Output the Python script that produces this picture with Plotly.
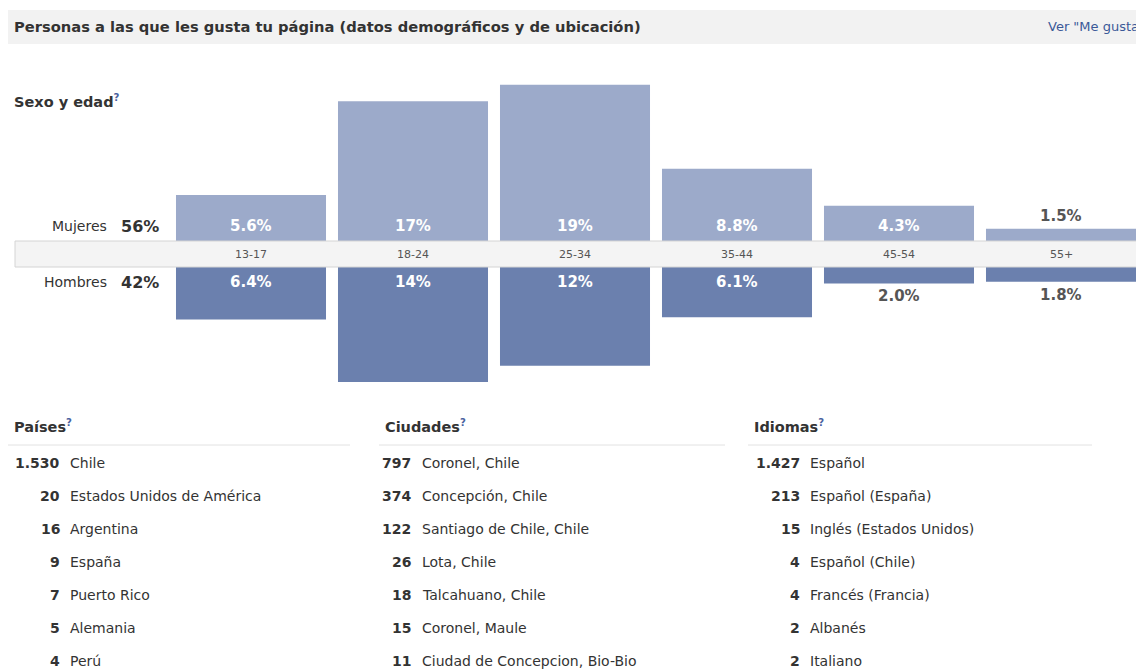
import plotly.graph_objects as go

# ---------------- data ----------------
age_groups = ["13-17", "18-24", "25-34", "35-44", "45-54", "55+"]
women_pct = [5.6, 17, 19, 8.8, 4.3, 1.5]
men_pct = [6.4, 14, 12, 6.1, 2.0, 1.8]
women_labels = ["5.6%", "17%", "19%", "8.8%", "4.3%", "1.5%"]
men_labels = ["6.4%", "14%", "12%", "6.1%", "2.0%", "1.8%"]
women_total = "56%"
men_total = "42%"

country_counts = ["1.530", "20", "16", "9", "7", "5", "4"]
country_names = ["Chile", "Estados Unidos de América", "Argentina", "España",
                 "Puerto Rico", "Alemania", "Perú"]
city_counts = ["797", "374", "122", "26", "18", "15", "11"]
city_names = ["Coronel, Chile", "Concepción, Chile", "Santiago de Chile, Chile",
              "Lota, Chile", "Talcahuano, Chile", "Coronel, Maule",
              "Ciudad de Concepcion, Bio-Bio"]
lang_counts = ["1.427", "213", "15", "4", "4", "2", "2"]
lang_names = ["Español", "Español (España)", "Inglés (Estados Unidos)",
              "Español (Chile)", "Francés (Francia)", "Albanés", "Italiano"]

# ---------------- geometry (screen pixels; page body has an 8px margin) ----------------
OFF = 8
W, Hpx = 1144 - OFF, 669 - OFF
PX_PER_PCT = 8.22
BAND_TOP, BAND_BOT = 241, 267
CENTER = (BAND_TOP + BAND_BOT) / 2
HALF = (BAND_BOT - BAND_TOP) / 2 / PX_PER_PCT
PLOT_TOP, PLOT_BOT = 70, 400

def px(x):
    return (x - OFF) / W

def py(y):
    return 1 - (y - OFF) / Hpx

FONT = "DejaVu Sans"
TXT = "#333333"
BLUE = "#3b5998"
WOMEN_C = "#9caaca"
MEN_C = "#6b80ae"

fig = go.Figure()
fig.add_trace(go.Bar(x=age_groups, y=women_pct, base=HALF, marker_color=WOMEN_C,
                     marker_line_width=0, hoverinfo="skip", showlegend=False))
fig.add_trace(go.Bar(x=age_groups, y=[-v for v in men_pct], base=-HALF,
                     marker_color=MEN_C, marker_line_width=0, hoverinfo="skip",
                     showlegend=False))

ann = []
shapes = []

# header band
shapes.append(dict(type="rect", xref="paper", yref="paper", x0=px(5), x1=px(1144),
                   y0=py(44), y1=py(10), fillcolor="#f2f2f2", line_width=0, layer="below"))
ann.append(dict(xref="paper", yref="paper", x=px(12), y=py(27), xanchor="left", yanchor="middle",
                text="<b>Personas a las que les gusta tu página (datos demográficos y de ubicación)</b>",
                showarrow=False, font=dict(family=FONT, size=14.7, color=TXT)))
ann.append(dict(xref="paper", yref="paper", x=px(1046), y=py(27), xanchor="left", yanchor="middle",
                text='Ver "Me gusta', showarrow=False, font=dict(family=FONT, size=13, color=BLUE)))

Q = "<sup><span style='color:#4a62a0;font-weight:bold'>?</span></sup>"
ann.append(dict(xref="paper", yref="paper", x=px(12), y=py(101), xanchor="left", yanchor="middle",
                text="<b>Sexo y edad</b>" + Q, showarrow=False,
                font=dict(family=FONT, size=14.5, color=TXT)))

# central age band
shapes.append(dict(type="rect", xref="paper", yref="paper", x0=px(15), x1=px(1141),
                   y0=py(BAND_BOT), y1=py(BAND_TOP), fillcolor="#f4f4f4",
                   line=dict(color="#d4d4d4", width=1), layer="above"))
for g in age_groups:
    ann.append(dict(xref="x", yref="y", x=g, y=0, text=g, showarrow=False,
                    font=dict(family=FONT, size=11, color="#555555")))

# percentage labels
for g, v, lab in zip(age_groups, women_pct, women_labels):
    if v * PX_PER_PCT > 25:
        yv, col = HALF + 15 / PX_PER_PCT, "#ffffff"
    else:
        yv, col = HALF + v + 13 / PX_PER_PCT, "#555555"
    ann.append(dict(xref="x", yref="y", x=g, y=yv, text="<b>%s</b>" % lab, showarrow=False,
                    font=dict(family=FONT, size=15, color=col)))
for g, v, lab in zip(age_groups, men_pct, men_labels):
    if v * PX_PER_PCT > 25:
        yv, col = -(HALF + 15 / PX_PER_PCT), "#ffffff"
    else:
        yv, col = -(HALF + v + 13 / PX_PER_PCT), "#555555"
    ann.append(dict(xref="x", yref="y", x=g, y=yv, text="<b>%s</b>" % lab, showarrow=False,
                    font=dict(family=FONT, size=15, color=col)))

# gender totals
for name, total, yy in (("Mujeres", women_total, 226), ("Hombres", men_total, 282)):
    ann.append(dict(xref="paper", yref="paper", x=px(109), y=py(yy), xanchor="right",
                    yanchor="middle", text=name, showarrow=False,
                    font=dict(family=FONT, size=14, color=TXT)))
    ann.append(dict(xref="paper", yref="paper", x=px(161), y=py(yy), xanchor="right",
                    yanchor="middle", text="<b>%s</b>" % total, showarrow=False,
                    font=dict(family=FONT, size=16, color=TXT)))

# lists
columns = [
    ("Países", country_counts, country_names, 12, 350, 62, 68),
    ("Ciudades", city_counts, city_names, 383, 725, 413, 420),
    ("Idiomas", lang_counts, lang_names, 752, 1092, 802, 808),
]
ROW0, ROWSTEP = 463, 33
for title, counts, names, x0, x1, numr, namel in columns:
    ann.append(dict(xref="paper", yref="paper", x=px(x0), y=py(426), xanchor="left", yanchor="middle",
                    text="<b>%s</b>" % title + Q, showarrow=False,
                    font=dict(family=FONT, size=14.5, color=TXT)))
    shapes.append(dict(type="line", xref="paper", yref="paper", x0=px(x0 - 4), x1=px(x1),
                       y0=py(445), y1=py(445), line=dict(color="#e2e2e2", width=1)))
    for i, (c, n) in enumerate(zip(counts, names)):
        yy = ROW0 + i * ROWSTEP
        ann.append(dict(xref="paper", yref="paper", x=px(numr), y=py(yy), xanchor="right",
                        yanchor="middle", text="<b>%s</b>" % c, showarrow=False,
                        font=dict(family=FONT, size=14, color=TXT)))
        ann.append(dict(xref="paper", yref="paper", x=px(namel), y=py(yy), xanchor="left",
                        yanchor="middle", text=n, showarrow=False,
                        font=dict(family=FONT, size=14, color=TXT)))

fig.update_layout(
    width=W, height=Hpx, autosize=False,
    margin=dict(l=0, r=0, t=0, b=0, pad=0),
    paper_bgcolor="white", plot_bgcolor="white",
    barmode="overlay", bargap=0.074,
    xaxis=dict(domain=[px(170), px(1142)], visible=False, fixedrange=True,
               categoryorder="array", categoryarray=age_groups),
    yaxis=dict(domain=[py(PLOT_BOT), py(PLOT_TOP)], visible=False, fixedrange=True,
               range=[-(PLOT_BOT - CENTER) / PX_PER_PCT, (CENTER - PLOT_TOP) / PX_PER_PCT]),
    annotations=ann, shapes=shapes,
)

fig.write_html("out.html", config={"displayModeBar": False})
